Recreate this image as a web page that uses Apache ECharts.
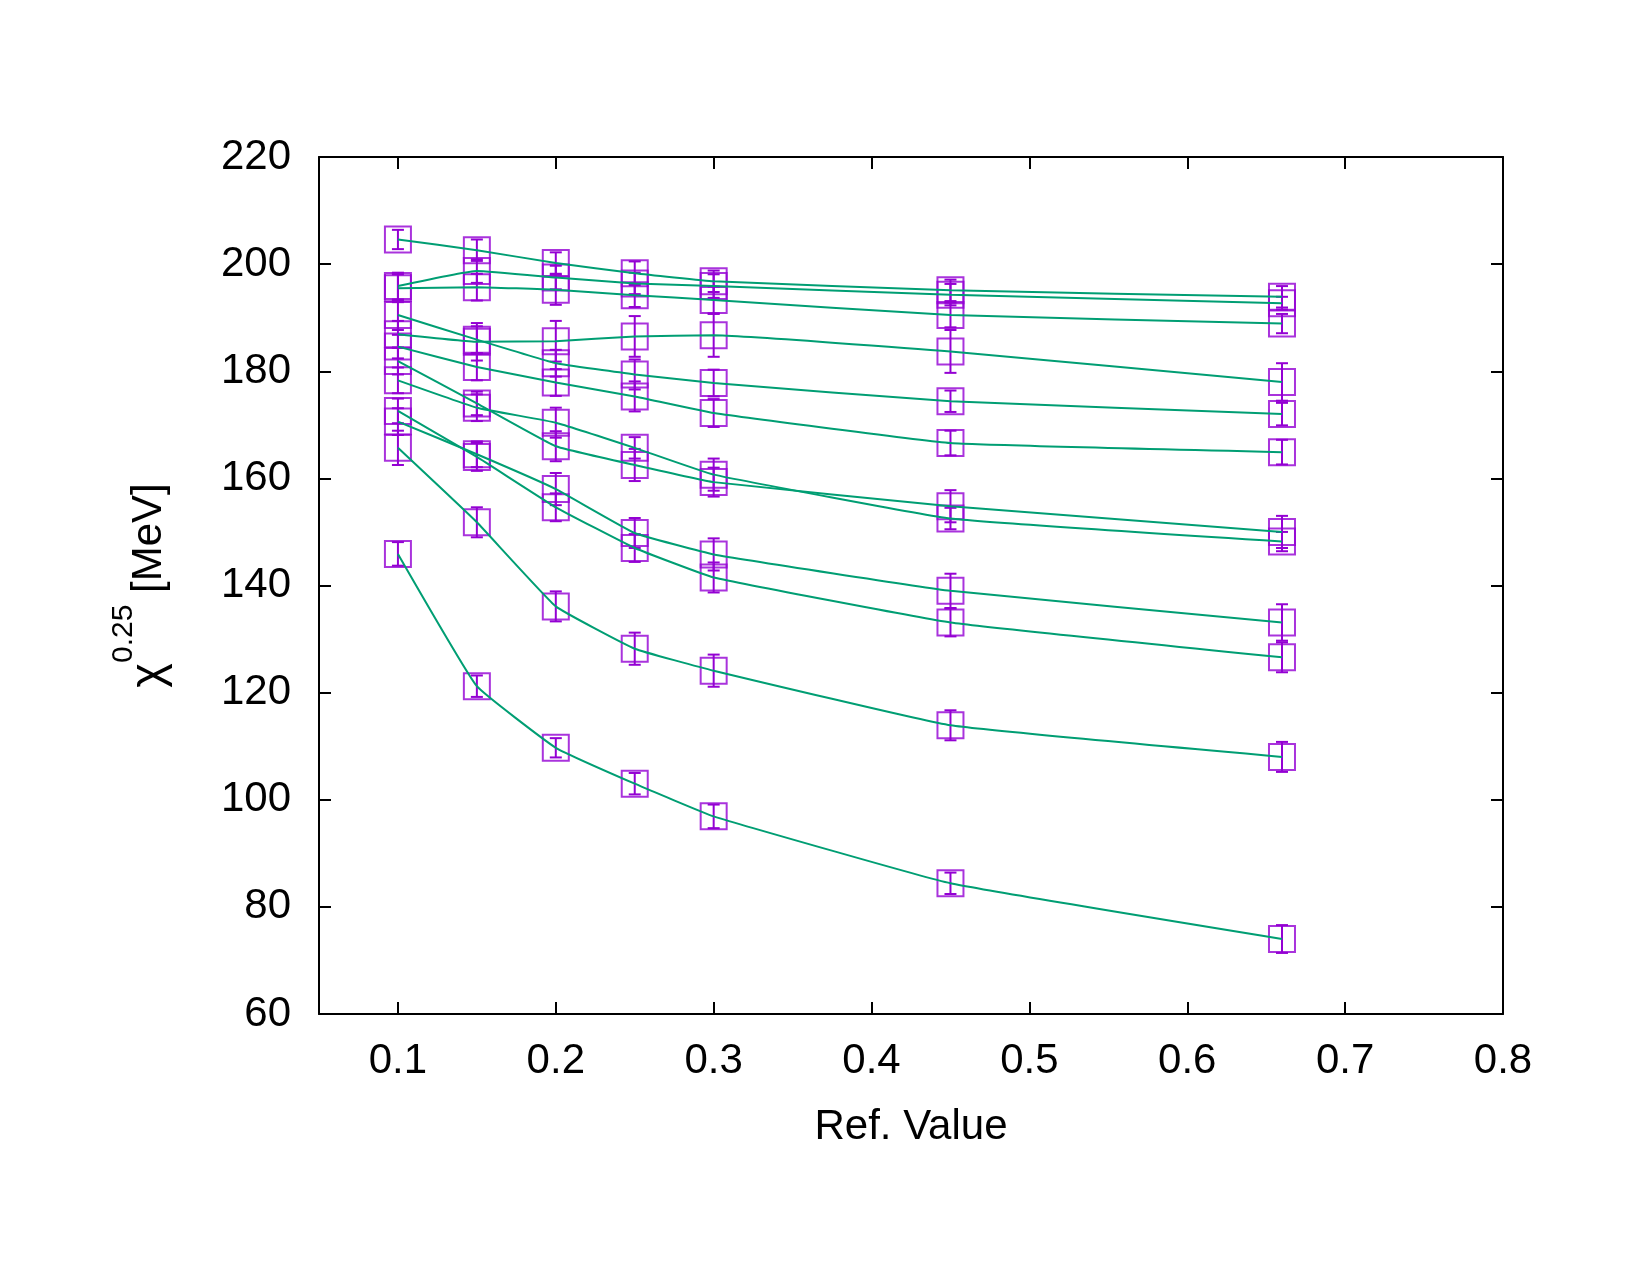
<!DOCTYPE html>
<html>
<head>
<meta charset="utf-8">
<script src="https://cdn.jsdelivr.net/npm/echarts@6/dist/echarts.min.js"></script>
<style>
  html, body { margin: 0; padding: 0; background: #fff; }
  #chart { width: 1650px; height: 1275px; }
</style>
</head>
<body>
<div id="chart"></div>
<script>
// x positions shared by every curve
const xValues = [0.1, 0.15, 0.2, 0.25, 0.3, 0.45, 0.66];
const xTicks = [0.1, 0.2, 0.3, 0.4, 0.5, 0.6, 0.7, 0.8];

// curve values, top to bottom
const set1 = [204.6, 202.6, 200.2, 198.3, 196.8, 195.1, 193.9];
const set2 = [195.9, 198.7, 197.5, 196.4, 195.9, 194.3, 192.7];
const set3 = [195.5, 195.7, 195.2, 194.2, 193.3, 190.5, 188.9];
const set4 = [190.5, 185.9, 181.5, 179.4, 177.8, 174.4, 172.0];
const set5 = [186.9, 185.5, 185.6, 186.5, 186.7, 183.7, 178.0];
const set6 = [184.6, 180.8, 177.9, 175.3, 172.2, 166.6, 164.9];
const set7 = [181.9, 174.0, 166.0, 162.5, 159.3, 154.8, 150.0];
const set8 = [178.3, 173.2, 170.4, 165.7, 160.7, 152.5, 148.2];
const set9 = [172.6, 164.0, 154.6, 147.0, 141.5, 133.1, 126.6];
const set10 = [170.6, 164.5, 158.0, 149.8, 145.8, 139.0, 133.1];
const set11 = [165.7, 151.8, 136.1, 128.2, 124.1, 113.9, 108.0];
const set12 = [145.9, 121.2, 109.7, 103.0, 96.9, 84.4, 74.0];

// errors (half height of the bars)
const err1 = [1.8, 2.0, 2.0, 2.2, 2.0, 2.0, 2.0];
const err2 = [2.5, 2.2, 2.2, 2.0, 2.2, 2.0, 1.2];
const err3 = [2.6, 2.5, 2.8, 2.2, 2.5, 2.3, 1.8];
const err4 = [2.8, 2.5, 2.5, 2.8, 2.5, 2.0, 2.1];
const err5 = [2.5, 3.5, 3.8, 3.8, 4.0, 4.0, 3.5];
const err6 = [2.2, 2.5, 2.5, 2.8, 2.6, 2.3, 2.3];
const err7 = [2.5, 2.2, 2.8, 3.0, 2.7, 3.0, 3.0];
const err8 = [2.4, 2.5, 2.8, 2.0, 3.0, 2.0, 1.8];
const err9 = [2.3, 2.6, 2.6, 2.6, 2.8, 2.6, 2.8];
const err10 = [2.5, 2.4, 3.0, 2.8, 3.0, 3.2, 3.4];
const err11 = [3.2, 2.8, 2.8, 3.0, 3.0, 2.8, 2.8];
const err12 = [2.2, 2.0, 1.8, 2.0, 2.2, 2.0, 2.6];

const sets = [set1, set2, set3, set4, set5, set6, set7, set8, set9, set10, set11, set12];
const errs = [err1, err2, err3, err4, err5, err6, err7, err8, err9, err10, err11, err12];

const green = "#009e73";
const purple = "#9400d3";
const font = "Liberation Sans, Arial, sans-serif";

function renderErrorBar(params, api) {
  const x = api.value(0);
  const top = api.coord([x, api.value(2)]);
  const bottom = api.coord([x, api.value(1)]);
  const half = 6;
  const style = { stroke: purple, lineWidth: 2 };
  return {
    type: "group",
    children: [
      { type: "line", shape: { x1: top[0], y1: top[1], x2: bottom[0], y2: bottom[1] }, style: style },
      { type: "line", shape: { x1: top[0] - half, y1: top[1], x2: top[0] + half, y2: top[1] }, style: style },
      { type: "line", shape: { x1: bottom[0] - half, y1: bottom[1], x2: bottom[0] + half, y2: bottom[1] }, style: style },
    ],
  };
}

const errorData = [];
const series = [];
sets.forEach(function(values, i) {
  const points = xValues.map((x, j) => [x, values[j]]);
  xValues.forEach(function(x, j) {
    errorData.push([x, values[j] - errs[i][j], values[j] + errs[i][j]]);
  });
  series.push({
    type: "scatter",
    data: points,
    symbol: "rect",
    symbolSize: 26,
    itemStyle: { color: "transparent", borderColor: purple, borderWidth: 2 },
    z: 2,
  });
  series.push({
    type: "line",
    data: points,
    smooth: 0.1,
    showSymbol: false,
    lineStyle: { color: green, width: 2 },
    z: 4,
  });
});
series.push({
  type: "custom",
  renderItem: renderErrorBar,
  data: errorData,
  encode: { x: 0, y: [1, 2] },
  z: 3,
});

const axisLine = { show: true, lineStyle: { color: "#000", width: 2 } };
const axisTick = { show: true, inside: true, length: 12, lineStyle: { color: "#000", width: 2 } };

const chart = echarts.init(document.getElementById("chart"));
chart.setOption({
  animation: false,
  backgroundColor: "#fff",
  grid: { left: 319, top: 157, right: 147, bottom: 261 },
  xAxis: [
    {
      type: "value",
      min: 0.05,
      max: 0.8,
      axisLine: axisLine,
      axisTick: Object.assign({ customValues: xTicks }, axisTick),
      splitLine: { show: false },
      axisLabel: { customValues: xTicks, margin: 26, color: "#000", fontSize: 42, fontFamily: font },
      name: "Ref. Value",
      nameLocation: "middle",
      nameGap: 92,
      nameTextStyle: { color: "#000", fontSize: 42, fontFamily: font, lineHeight: 42 },
    },
    {
      type: "value",
      position: "top",
      min: 0.05,
      max: 0.8,
      axisLine: axisLine,
      axisTick: Object.assign({ customValues: xTicks }, axisTick),
      axisLabel: { show: false },
      splitLine: { show: false },
    },
  ],
  yAxis: [
    {
      type: "value",
      min: 60,
      max: 220,
      interval: 20,
      axisLine: axisLine,
      axisTick: axisTick,
      splitLine: { show: false },
      axisLabel: { margin: 28, color: "#000", fontSize: 42, fontFamily: font },
      name: "{chi|χ}{sup|0.25}{m| [MeV]}",
      nameLocation: "middle",
      nameGap: 130,
      nameTextStyle: {
        color: "#000",
        fontFamily: font,
        rich: {
          chi: { fontSize: 47, lineHeight: 80, fontFamily: font, color: "#000" },
          m: { fontSize: 42, lineHeight: 80, fontFamily: font, color: "#000" },
          sup: { fontSize: 30, lineHeight: 30, verticalAlign: "top", fontFamily: font, color: "#000" },
        },
      },
    },
    {
      type: "value",
      position: "right",
      min: 60,
      max: 220,
      interval: 20,
      axisLine: axisLine,
      axisTick: axisTick,
      axisLabel: { show: false },
      splitLine: { show: false },
    },
  ],
  series: series,
});
</script>
</body>
</html>
